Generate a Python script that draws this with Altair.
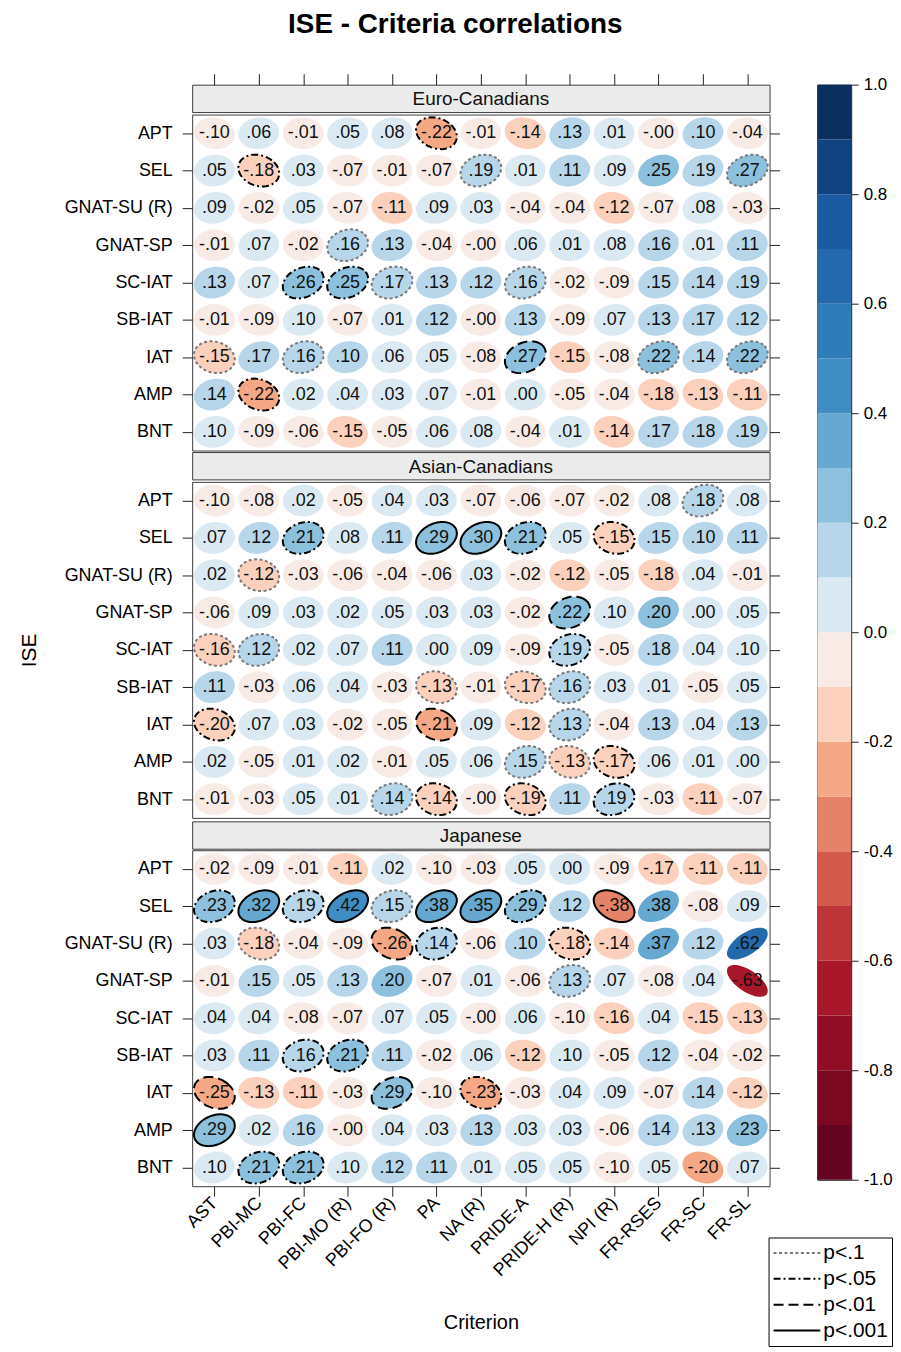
import math
import pandas as pd
import altair as alt

FONT = "Liberation Sans"

ROWS = ["APT", "SEL", "GNAT-SU (R)", "GNAT-SP", "SC-IAT", "SB-IAT", "IAT", "AMP", "BNT"]
CRITERIA = ["AST", "PBI-MC", "PBI-FC", "PBI-MO (R)", "PBI-FO (R)", "PA", "NA (R)",
            "PRIDE-A", "PRIDE-H (R)", "NPI (R)", "FR-RSES", "FR-SC", "FR-SL"]
GROUPS = ["Euro-Canadians", "Asian-Canadians", "Japanese"]

EURO = [
    [-0.097, .06, -.01, .05, .08, -.22, -.01, -.14, .13, .01, -0.001, 0.102, -.04],
    [.05, -.18, .03, -.07, -.01, -.07, .19, .01, .11, .09, .25, .19, .27],
    [.09, -.02, .05, -.07, -.11, .09, .03, -.04, -.04, -.12, -.07, .08, -.03],
    [-.01, .07, -.02, .16, .13, -.04, -0.001, .06, .01, .08, .16, .01, .11],
    [.13, .07, .26, .25, .17, .13, .12, .16, -.02, -.09, .15, .14, .19],
    [-.01, -.09, 0.098, -.07, .01, .12, -0.001, .13, -.09, .07, .13, .17, .12],
    [-.15, .17, .16, 0.102, .06, .05, -.08, .27, -.15, -.08, .22, .14, .22],
    [.14, -.22, .02, .04, .03, .07, -.01, 0.0, -.05, -.04, -.18, -.13, -.11],
    [0.098, -.09, -.06, -.15, -.05, .06, .08, -.04, .01, -.14, .17, .18, .19],
]
ASIAN = [
    [-0.097, -.08, .02, -.05, .04, .03, -.07, -.06, -.07, -.02, .08, .18, .08],
    [.07, .12, .21, .08, .11, .29, 0.298, .21, .05, -.15, .15, 0.102, .11],
    [.02, -.12, -.03, -.06, -.04, -.06, .03, -.02, -.12, -.05, -.18, .04, -.01],
    [-.06, .09, .03, .02, .05, .03, .03, -.02, .22, 0.098, 0.202, 0.0, .05],
    [-.16, .12, .02, .07, .11, 0.0, .09, -.09, .19, -.05, .18, .04, 0.098],
    [.11, -.03, .06, .04, -.03, -.13, -.01, -.17, .16, .03, .01, -.05, .05],
    [-0.198, .07, .03, -.02, -.05, -.21, .09, -.12, .13, -.04, .13, .04, .13],
    [.02, -.05, .01, .02, -.01, .05, .06, .15, -.13, -.17, .06, .01, 0.0],
    [-.01, -.03, .05, .01, .14, -.14, -0.001, -.19, .11, .19, -.03, -.11, -.07],
]
JAPANESE = [
    [-.02, -.09, -.01, -.11, .02, -0.097, -.03, .05, 0.0, -.09, -.17, -.11, -.11],
    [.23, .32, .19, .42, .15, .38, .35, .29, .12, -.38, .38, -.08, .09],
    [.03, -.18, -.04, -.09, -.26, .14, -.06, 0.102, -.18, -.14, .37, .12, .62],
    [-.01, .15, .05, .13, 0.202, -.07, .01, -.06, .13, .07, -.08, .04, -.63],
    [.04, .04, -.08, -.07, .07, .05, -0.001, .06, -0.097, -.16, .04, -.15, -.13],
    [.03, .11, .16, .21, .11, -.02, .06, -.12, 0.098, -.05, .12, -.04, -.02],
    [-.25, -.13, -.11, -.03, .29, -0.097, -.23, -.03, .04, .09, -.07, .14, -.12],
    [.29, .02, .16, -0.001, .04, .03, .13, .03, .03, -.06, .14, .13, .23],
    [0.098, .21, .21, 0.098, .12, .11, .01, .05, .05, -0.097, .05, -0.202, .07],
]

# significance codes: . none, a p<.1, b p<.05, c p<.01, d p<.001
EURO_SIG = [".....b.......", ".b....a.....a", ".............", "...a.........",
            "..bba..a.....", ".............", "a.a....c..a.a", ".b...........",
            "............."]
ASIAN_SIG = ["...........a.", "..b..ddb.b...", ".a...........", "........c....",
             "aa......b....", ".....a.aa....", "b....c..a....", ".......aab...",
             "....ab.b.b..."]
JAPANESE_SIG = [".............", "bdbdaddb.d...", ".a..cb..b....", "........a....",
                ".............", "..bb.........", "c...c.b......", "d............",
                ".bb.........."]

SIG_LEVELS = ["p<.1", "p<.05", "p<.01", "p<.001"]
SIG_CODES = {"a": "p<.1", "b": "p<.05", "c": "p<.01", "d": "p<.001"}
SIG_COLORS = ["#7a7a7a", "#000000", "#000000", "#000000"]
SIG_DASHES = [[3, 2.5], [7, 3, 2, 3], [10, 5], [1, 0]]

BREAKS = [-1.0, -0.9, -0.8, -0.7, -0.6, -0.5, -0.4, -0.3, -0.2, -0.1, 0.0,
          0.1, 0.2, 0.3, 0.4, 0.5, 0.6, 0.7, 0.8, 0.9, 1.0]
COLORS = ["#640420", "#7a0821", "#910d25", "#a8162a", "#bd3538", "#d35a4c",
          "#e5836a", "#f5a885", "#fbd1bd", "#f8ebe5", "#dbe9f3", "#b7d6ea",
          "#8dc0dd", "#66a8cf", "#3f8dc2", "#2e7cb8", "#2369ab", "#1a5aa0",
          "#0f427f", "#0a2f5f"]
TICKS = [-1.0, -0.8, -0.6, -0.4, -0.2, 0.0, 0.2, 0.4, 0.6, 0.8, 1.0]

W = 580
H_HEAD = 27.5
H_BODY = 337.5
ELL_SIZE = 1681
ASPECT = 0.78


def label_of(v):
    s = f"{v:.2f}"
    return s.replace("0.", ".", 1)


def ellipse_path(r):
    d = math.acos(max(-0.999, min(0.999, r)))
    pts = []
    n = 48
    for i in range(n):
        t = 2 * math.pi * i / n
        x = math.cos(t + d / 2)
        y = -math.cos(t - d / 2) * ASPECT
        pts.append(f"{x:.3f},{y:.3f}")
    return "M" + "L".join(pts) + "Z"


def make_df(vals, sig):
    recs = []
    for i, row in enumerate(ROWS):
        for j, crit in enumerate(CRITERIA):
            v = vals[i][j]
            c = sig[i][j]
            recs.append({"row": row, "crit": crit, "r": v, "label": label_of(v),
                         "key": f"{v:.3f}", "sig": SIG_CODES.get(c, "")})
    return pd.DataFrame(recs)


DFS = [make_df(EURO, EURO_SIG), make_df(ASIAN, ASIAN_SIG), make_df(JAPANESE, JAPANESE_SIG)]
KEYS = sorted(set(k for df in DFS for k in df["key"]), key=float)
PATHS = [ellipse_path(float(k)) for k in KEYS]

COLOR_SCALE = alt.Scale(type="threshold", domain=BREAKS[1:-1], range=COLORS)
SHAPE_SCALE = alt.Scale(domain=KEYS, range=PATHS)
XSCALE = alt.Scale(paddingInner=0, paddingOuter=0)
YSCALE = alt.Scale(paddingInner=0, paddingOuter=0)

LINE_LEGEND = alt.Legend(
    orient="none", legendX=579, legendY=1158, title=None, symbolType="stroke",
    symbolSize=2200, symbolStrokeWidth=2, labelFontSize=21, labelFont=FONT,
    labelColor="#000", strokeColor="#000", fillColor="#ffffff", padding=4,
    rowPadding=3, clipHeight=23, labelOffset=2)

XAXIS = alt.Axis(orient="bottom", labelAngle=315, labelAlign="right",
                 labelBaseline="middle", labelFontSize=18, labelPadding=4,
                 tickSize=10, domain=False, title="Criterion", titleFontSize=20,
                 titleFontWeight="normal", titlePadding=33)


def header(name, top_axis):
    hdf = pd.DataFrame({"group": [name]})
    txt = alt.Chart(hdf).mark_text(fontSize=19, font=FONT, color="#111").encode(
        x=alt.value(W / 2), y=alt.value(H_HEAD / 2 + 1), text="group:N")
    layers = [txt]
    if top_axis:
        cdf = pd.DataFrame({"crit": CRITERIA})
        tk = alt.Chart(cdf).mark_point(opacity=0).encode(
            x=alt.X("crit:N", sort=CRITERIA, scale=XSCALE,
                    axis=alt.Axis(orient="top", labels=False, domain=False, tickSize=11,
                                  title=None, tickColor="#222")))
        layers.append(tk)
    return alt.layer(*layers).properties(
        width=W, height=H_HEAD, view=alt.ViewBackground(fill="#ebebeb", stroke="#3c3c3c"))


def body(df, show_x, show_ytitle):
    base = alt.Chart(df)
    xenc = alt.X("crit:N", sort=CRITERIA, scale=XSCALE, axis=(XAXIS if show_x else None))
    yleft = alt.Y("row:N", sort=ROWS, scale=YSCALE,
                  axis=alt.Axis(orient="left", title=("ISE" if show_ytitle else None),
                                titleFontSize=21, titleFontWeight="normal", titlePadding=25,
                                labelFontSize=18, labelPadding=10, tickSize=10,
                                domain=False, grid=False))
    ynone = alt.Y("row:N", sort=ROWS, scale=YSCALE, axis=None)
    shape = alt.Shape("key:N", scale=SHAPE_SCALE, legend=None)

    fill = base.mark_point(filled=True, size=ELL_SIZE, opacity=1, strokeWidth=0).encode(
        x=xenc, y=yleft, shape=shape,
        color=alt.Color("r:Q", scale=COLOR_SCALE, legend=None))
    outline = base.transform_filter(alt.datum.sig != "").mark_point(
        filled=False, size=ELL_SIZE, opacity=1, strokeWidth=2).encode(
        x=xenc, y=ynone, shape=shape,
        stroke=alt.Stroke("sig:N", scale=alt.Scale(domain=SIG_LEVELS, range=SIG_COLORS),
                          legend=LINE_LEGEND),
        strokeDash=alt.StrokeDash("sig:N", scale=alt.Scale(domain=SIG_LEVELS, range=SIG_DASHES),
                                  legend=LINE_LEGEND))
    text = base.mark_text(fontSize=18, font=FONT, color="#111").encode(
        x=xenc, y=ynone, text="label:N")
    right = base.mark_point(opacity=0).encode(
        x=xenc,
        y=alt.Y("row:N", sort=ROWS, scale=YSCALE,
                axis=alt.Axis(orient="right", labels=False, title=None, tickSize=10,
                              domain=False, grid=False)))
    return alt.layer(fill, outline, text, right).resolve_axis(y="independent").properties(
        width=W, height=H_BODY, view=alt.ViewBackground(fill="#ffffff", stroke="#3c3c3c"))


left = alt.vconcat(
    header(GROUPS[0], True), body(DFS[0], False, False),
    header(GROUPS[1], False), body(DFS[1], False, True),
    header(GROUPS[2], False), body(DFS[2], True, False),
    spacing=0)

cb_df = pd.DataFrame({"lo": BREAKS[:-1], "hi": BREAKS[1:]})
cb_df["mid"] = (cb_df["lo"] + cb_df["hi"]) / 2
colorbar = alt.Chart(cb_df).mark_rect().encode(
    x=alt.value(0), x2=alt.value(34),
    y=alt.Y("lo:Q", scale=alt.Scale(domain=[-1, 1], nice=False, zero=False),
            axis=alt.Axis(orient="right", values=TICKS, format=".1f",
                          labelExpr="replace(datum.label, '\u2212', '-')",
                          tickSize=7, domain=False, grid=False, title=None,
                          labelFontSize=17, labelPadding=5)),
    y2="hi:Q",
    color=alt.Color("mid:Q", scale=COLOR_SCALE, legend=None),
).properties(width=34, height=1100, view=alt.ViewBackground(stroke="#111"))

chart = alt.hconcat(left, colorbar, spacing=36).properties(
    title=alt.Title("ISE - Criteria correlations", fontSize=28, font=FONT,
                    fontWeight="bold", anchor="middle", offset=34, color="#000"),
    padding={"left": 9, "top": 0, "right": 0, "bottom": 0},
).configure_axis(
    labelFont=FONT, titleFont=FONT, labelColor="#000", titleColor="#000",
    tickColor="#222", tickWidth=1
).configure_view(stroke="#3c3c3c")

chart.save("out.html", embed_options={"renderer": "svg", "actions": False})
